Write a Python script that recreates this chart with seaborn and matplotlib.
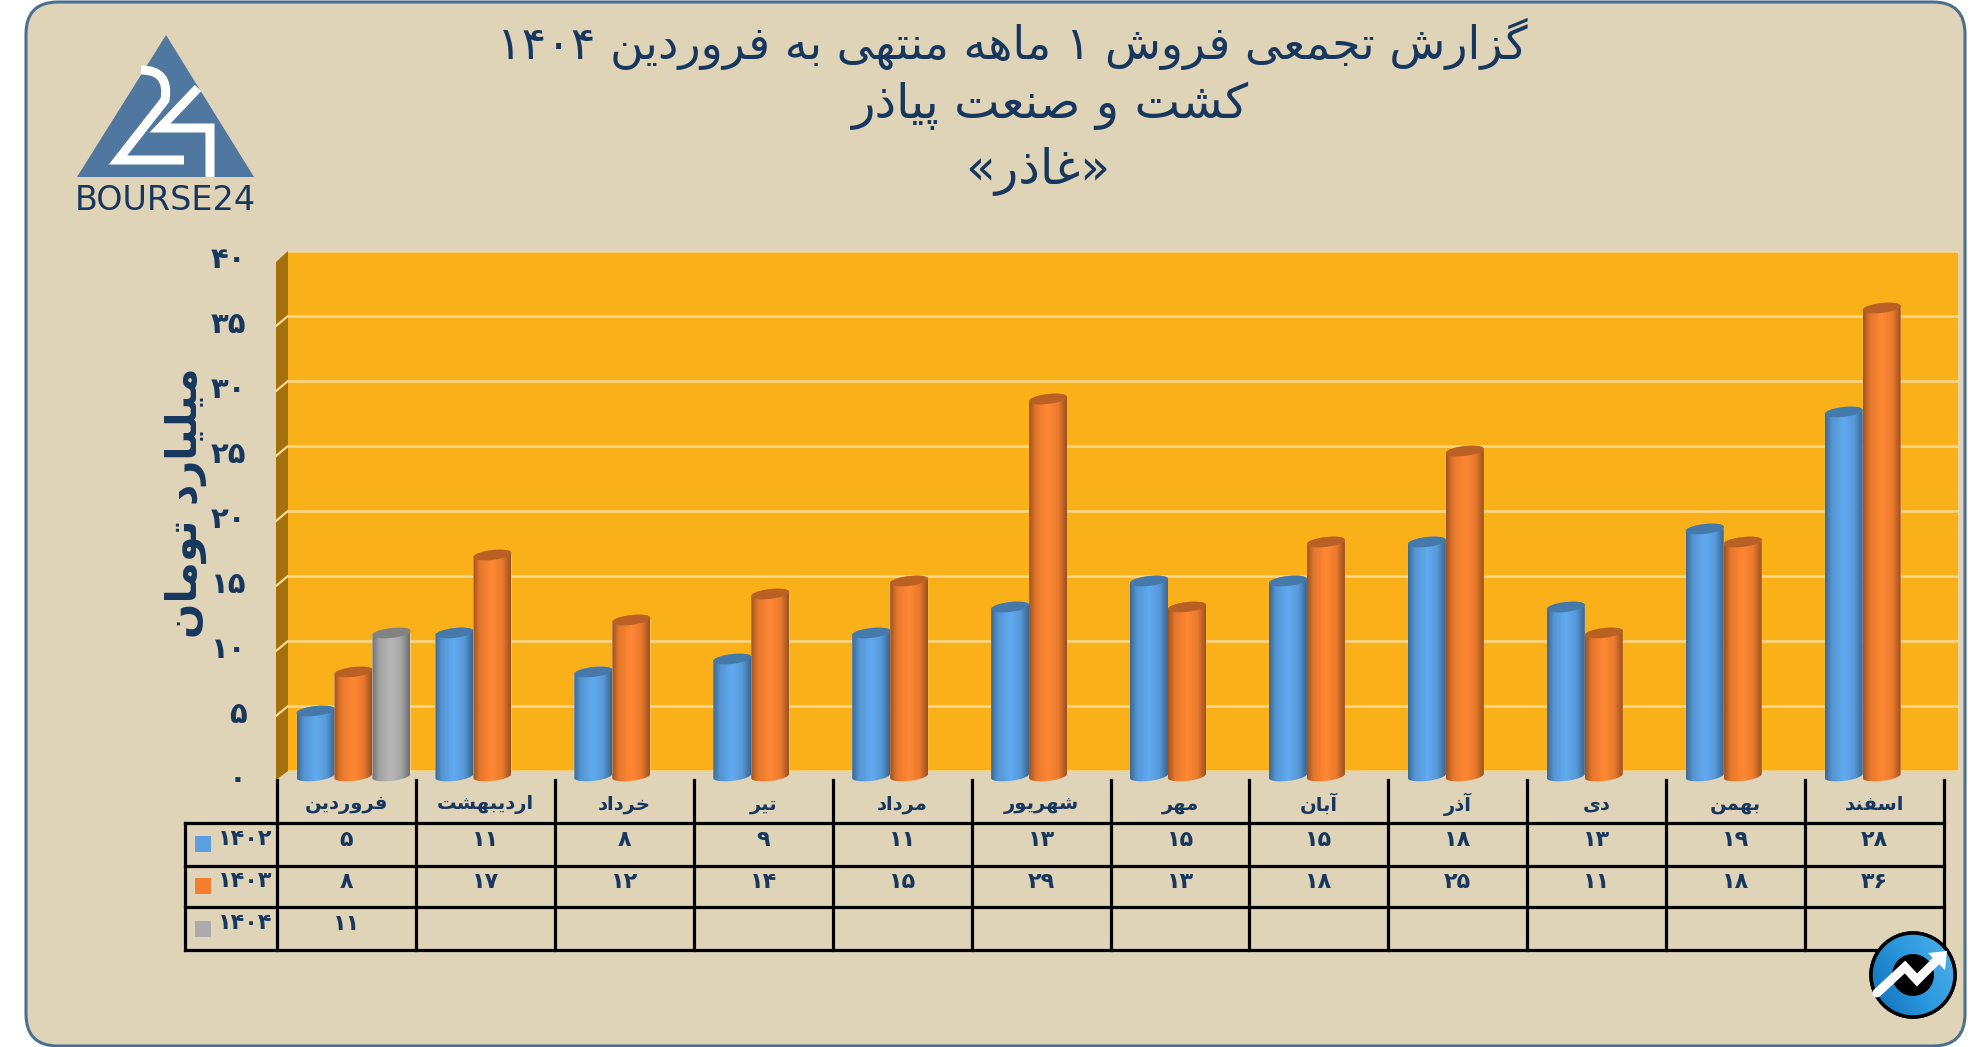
import re
import numpy as np
import pandas as pd
import matplotlib
matplotlib.use('Agg')
import matplotlib.pyplot as plt
import matplotlib.transforms as mtransforms
from matplotlib.colors import LinearSegmentedColormap, to_rgb
from matplotlib.patches import Circle, FancyBboxPatch, Polygon, Rectangle, PathPatch
from matplotlib.path import Path
import seaborn as sns

# chart values
months = ['فروردین', 'اردیبهشت', 'خرداد', 'تیر', 'مرداد', 'شهریور',
          'مهر', 'آبان', 'آذر', 'دی', 'بهمن', 'اسفند']
years = ['1402', '1403', '1404']
sales_1402 = [5, 11, 8, 9, 11, 13, 15, 15, 18, 13, 19, 28]
sales_1403 = [8, 17, 12, 14, 15, 29, 13, 18, 25, 11, 18, 36]
sales_1404 = [11, np.nan, np.nan, np.nan, np.nan, np.nan, np.nan, np.nan, np.nan, np.nan, np.nan, np.nan]
y_ticks = [0, 5, 10, 15, 20, 25, 30, 35, 40]
title_lines = ['گزارش تجمعی فروش ۱ ماهه منتهی به فروردین ۱۴۰۴', 'کشت و صنعت پیاذر', '«غاذر»']
y_title = 'میلیارد تومان'

colors = {'1402': '#5B9FE0', '1403': '#F47F30', '1404': '#ABABAB'}
NAVY = '#17375E'
CARD = '#DFD3B8'
WALL = '#FAB019'
W, H = 1986, 1047

# matplotlib does no Arabic shaping, so map letters to presentation forms
FORMS = {
    'ا': (0xFE8D, 0xFE8E), 'آ': (0xFE81, 0xFE82), 'د': (0xFEA9, 0xFEAA), 'ذ': (0xFEAB, 0xFEAC),
    'ر': (0xFEAD, 0xFEAE), 'ز': (0xFEAF, 0xFEB0), 'و': (0xFEED, 0xFEEE),
    'ب': (0xFE8F, 0xFE90, 0xFE91, 0xFE92), 'پ': (0xFB56, 0xFB57, 0xFB58, 0xFB59),
    'ت': (0xFE95, 0xFE96, 0xFE97, 0xFE98), 'ج': (0xFE9D, 0xFE9E, 0xFE9F, 0xFEA0),
    'خ': (0xFEA5, 0xFEA6, 0xFEA7, 0xFEA8), 'س': (0xFEB1, 0xFEB2, 0xFEB3, 0xFEB4),
    'ش': (0xFEB5, 0xFEB6, 0xFEB7, 0xFEB8), 'ص': (0xFEB9, 0xFEBA, 0xFEBB, 0xFEBC),
    'ع': (0xFEC9, 0xFECA, 0xFECB, 0xFECC), 'غ': (0xFECD, 0xFECE, 0xFECF, 0xFED0),
    'ف': (0xFED1, 0xFED2, 0xFED3, 0xFED4), 'ک': (0xFB8E, 0xFB8F, 0xFB90, 0xFB91),
    'گ': (0xFB92, 0xFB93, 0xFB94, 0xFB95), 'ل': (0xFEDD, 0xFEDE, 0xFEDF, 0xFEE0),
    'م': (0xFEE1, 0xFEE2, 0xFEE3, 0xFEE4), 'ن': (0xFEE5, 0xFEE6, 0xFEE7, 0xFEE8),
    'ه': (0xFEE9, 0xFEEA, 0xFEEB, 0xFEEC), 'ی': (0xFBFC, 0xFBFD, 0xFBFE, 0xFBFF),
}


def shape(text):
    """Join the letters and put the string in visual order"""
    out = []
    for i, ch in enumerate(text):
        if ch not in FORMS:
            out.append(ch)
            continue
        prev_ch = text[i - 1] if i > 0 else ''
        next_ch = text[i + 1] if i + 1 < len(text) else ''
        joins_prev = prev_ch in FORMS and len(FORMS[prev_ch]) == 4
        joins_next = next_ch in FORMS and len(FORMS[ch]) == 4
        if joins_prev and joins_next:
            form = 3
        elif joins_next:
            form = 2
        elif joins_prev:
            form = 1
        else:
            form = 0
        out.append(chr(FORMS[ch][form]))
    visual = ''.join(reversed(out))
    visual = visual.translate(str.maketrans('«»', '»«'))
    # digit runs stay left to right
    return re.sub('[۰-۹]+', lambda m: m.group(0)[::-1], visual)


def fa_num(value):
    return str(int(value)).translate(str.maketrans('0123456789', '۰۱۲۳۴۵۶۷۸۹'))


def px_axes(fig, left, top, right, bottom, **kwargs):
    """Axes placed with pixel edges of the figure"""
    return fig.add_axes([left / W, 1 - bottom / H, (right - left) / W, (bottom - top) / H], **kwargs)


sns.set_theme(style='white')
plt.rcParams['font.family'] = ['DejaVu Sans']

df = pd.DataFrame({'month': months, '1402': sales_1402, '1403': sales_1403, '1404': sales_1404})
df = df.melt(id_vars='month', var_name='year', value_name='sales')

fig = plt.figure(figsize=(19.86, 10.47), dpi=100, facecolor='white')

#%% page layer, pixel coordinates
page = fig.add_axes([0, 0, 1, 1], zorder=0)
page.axis('off')
page.add_patch(FancyBboxPatch((58, 34), 1875, 980, boxstyle='round,pad=32,rounding_size=32',
                              fc=CARD, ec='#4A7090', lw=2.2))

for y_txt, x_txt, line, size in zip([44, 106, 171], [1012, 1050, 1038], title_lines, [33, 34.8, 35]):
    page.text(x_txt, y_txt, shape(line), ha='center', va='center', fontsize=size, color=NAVY)

# logo
page.add_patch(Polygon([(166, 35), (77, 177), (254, 177)], fc='#50779F', ec='none'))
two = Path([(141, 70), (170, 70), (165, 100), (118, 160), (184, 160)],
           [Path.MOVETO, Path.CURVE3, Path.CURVE3, Path.LINETO, Path.LINETO])
page.add_patch(PathPatch(two, fc='none', ec='white', lw=6.5, joinstyle='miter', capstyle='butt'))
page.plot([198, 160, 210, 210], [88, 128, 128, 177], color='white', lw=6.5,
          solid_joinstyle='miter', solid_capstyle='butt')
page.text(165, 200, 'BOURSE24', ha='center', va='center', fontsize=24, color=NAVY)

# side wall of the 3D box
page.add_patch(Polygon([(276, 262), (288, 251), (288, 771), (276, 780)], fc='#A3700B', ec='none'))

#%% table under the chart
col_w = (1944 - 277) / 12
row_lines = [823, 866, 907, 950]
for i in range(13):
    page.plot([277 + i * col_w] * 2, [780, 950], color='black', lw=2.3, solid_capstyle='projecting')
page.plot([185, 185], [823, 950], color='black', lw=2.3, solid_capstyle='projecting')
for y_line in row_lines:
    page.plot([185, 1944], [y_line, y_line], color='black', lw=2.3, solid_capstyle='projecting')

for i, month in enumerate(months):
    x_mid = 277 + (i + 0.5) * col_w
    page.text(x_mid, 804, shape(month), ha='center', va='center', fontsize=14, fontweight='bold', color=NAVY)
    for y_txt, row in zip([840, 882, 924], [sales_1402, sales_1403, sales_1404]):
        if not np.isnan(row[i]):
            page.text(x_mid, y_txt, fa_num(row[i]), ha='center', va='center', fontsize=16,
                      fontweight='bold', color=NAVY)

for year, y_txt, y_key in zip(years, [839, 881, 923], [836, 878, 921]):
    page.add_patch(Rectangle((195, y_key), 16, 16, fc=colors[year], ec='none'))
    page.text(218, y_txt, fa_num(year), ha='left', va='center', fontsize=16, fontweight='bold', color=NAVY)

# round badge, bottom right
disc = Circle((1913, 975), 42, fc='#1F8FDB', ec='black', lw=2.5, zorder=2)
page.add_patch(disc)
gx, gy = np.meshgrid(np.linspace(-1, 1, 90), np.linspace(-1, 1, 90))
glow = page.imshow(gx * 0.5 + 0.5 - 0.25 * gy, extent=(1871, 1955, 1017, 933), aspect='auto', zorder=2.1,
                   cmap=LinearSegmentedColormap.from_list('badge', ['#0F6DB5', '#2A97DE', '#55B4EC']))
glow.set_clip_path(disc)
page.add_patch(Circle((1913, 975), 42, fc='none', ec='black', lw=2.5, zorder=2.2))
page.add_patch(Circle((1913, 975), 21, fc='black', ec='none', zorder=2.3))
page.plot([1877, 1905, 1917, 1937], [993, 967, 980, 960], color='white', lw=6.5,
          solid_joinstyle='miter', zorder=2.4)
page.add_patch(Polygon([(1928, 953), (1947, 951), (1945, 970)], fc='white', ec='none', zorder=2.4))

#%% back wall with the grid
wall = px_axes(fig, 288, 251, 1958, 771, zorder=1, facecolor=WALL)
wall.set_ylim(0, 40)
wall.set_xlim(0, 1)
wall.set_xticks([])
wall.set_yticks(y_ticks)
wall.set_yticklabels([])
wall.tick_params(length=0)
wall.grid(axis='y', color='#FCD98F', lw=1.8)
sns.despine(ax=wall, left=True, bottom=True)
for y_val in y_ticks[1:-1]:
    y_px = 771 - y_val * 13
    page.plot([276, 288], [y_px + 10, y_px], color='#FCD98F', lw=1.6)

page.set_xlim(0, W)
page.set_ylim(H, 0)

#%% cylinders on the front plane
ax = px_axes(fig, 284, 256, 1951, 789, zorder=2)
ax.patch.set_alpha(0)
sns.barplot(data=df, x='month', y='sales', hue='year', palette=colors, saturation=1,
            width=0.82, legend=False, ax=ax)
ax.set_xlim(-0.5, 11.5)
ax.set_ylim(-1, 40)

ELL_B = 0.38    # half height of the end ellipses, data units
RISE = 0.16     # the ellipses lean up to the right, data units at the bar edge
theta_low = np.linspace(np.pi, 2 * np.pi, 40)
theta_high = np.linspace(0, np.pi, 40)
for bar in list(ax.patches):
    height = bar.get_height()
    if np.isnan(height) or height == 0:
        continue
    x0, bw = bar.get_x(), bar.get_width()
    xc = x0 + bw / 2
    base = np.array(to_rgb(bar.get_facecolor()))

    def rim(theta, yc):
        c = np.cos(theta)
        return np.column_stack([xc + c * bw / 2, yc + ELL_B * np.sin(theta) + RISE * c])

    body = Polygon(np.vstack([rim(theta_low, 0), rim(theta_high, height)]),
                   transform=ax.transData, fc='none', ec='none')
    ax.add_patch(body)
    bar.set_clip_path(body)
    shade = LinearSegmentedColormap.from_list('cyl', [
        (0.0, base * 0.66), (0.18, base * 0.94), (0.5, np.minimum(base * 1.07, 1)),
        (0.78, base * 0.96), (1.0, base * 0.64)])
    img = ax.imshow(np.linspace(0, 1, 64)[None, :], extent=(x0, x0 + bw, -1, height + 1),
                    cmap=shade, aspect='auto', zorder=3, interpolation='bilinear')
    img.set_clip_path(body)
    ax.add_patch(Polygon(rim(np.linspace(0, 2 * np.pi, 80), height), fc=base * 0.76, ec='none', zorder=3.1))

ax.set_xlim(-0.5, 11.5)
ax.set_ylim(-1, 40)
ax.set_xticks([])
ax.set_xlabel('')
ax.set_yticks(y_ticks)
ax.set_yticklabels([fa_num(v) for v in y_ticks], fontsize=21, fontweight='bold', color=NAVY)
ax.tick_params(axis='y', length=0, pad=27)
shift = mtransforms.ScaledTranslation(0, -1 / 100, fig.dpi_scale_trans)
for lab in ax.get_yticklabels():
    lab.set_transform(lab.get_transform() + shift)
ax.set_ylabel(shape(y_title), fontsize=30, fontweight='bold', color=NAVY)
ax.yaxis.set_label_coords(-0.046, 0.537)
sns.despine(ax=ax, left=True, bottom=True)

fig.savefig('out.png', dpi=100)
